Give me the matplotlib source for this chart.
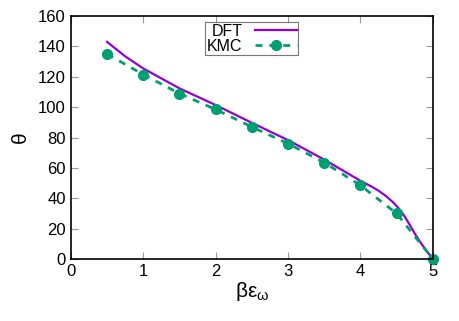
import numpy as np
import matplotlib
matplotlib.use("Agg")
import matplotlib.pyplot as plt

plt.rcParams['font.family'] = ['Liberation Sans', 'DejaVu Sans']
plt.rcParams['mathtext.fontset'] = 'custom'
plt.rcParams['mathtext.rm'] = 'Liberation Sans'

# DFT curve
dft_x = [0.5, 0.75, 1.0, 1.5, 2.0, 2.5, 3.0, 3.5, 4.0, 4.15, 4.25, 4.35, 4.45, 4.52, 4.6, 4.68, 4.76, 4.85, 4.93, 5.0]
dft_y = [143, 133.5, 125.5, 112.4, 101.4, 89.7, 78.3, 65.5, 51.5, 47.8, 45.0, 41.6, 37.4, 33.8, 28.8, 22.6, 16.0, 9.5, 4.4, 0.0]

# KMC points
kmc_x = [0.5, 1.0, 1.5, 2.0, 2.5, 3.0, 3.5, 4.0, 4.5, 5.0]
kmc_y = [135, 121.5, 109, 98.5, 87, 76, 63.5, 48.5, 30, 0]

fig = plt.figure(figsize=(4.6, 3.21), dpi=100)
ax = fig.add_axes([0.154, 0.193, 0.787, 0.757])

ax.plot(dft_x, dft_y, color='#9400D3', lw=1.6, label='DFT', solid_joinstyle='round')
ax.plot(kmc_x, kmc_y, color='#009E73', lw=2.0, ls=(0, (2.5, 2.5)),
        marker='o', ms=7, label='KMC', clip_on=False)

ax.set_xlim(0, 5)
ax.set_ylim(0, 160)
ax.set_xticks(range(0, 6))
ax.set_yticks(range(0, 161, 20))
ax.tick_params(direction='in', top=True, right=True, labelsize=12, length=5, color='#999999')
for s in ax.spines.values():
    s.set_linewidth(1.2)

ax.set_xlabel(r'$\mathrm{βε_{ω}}$', fontsize=15, labelpad=1)
ax.set_ylabel('θ', fontsize=15, labelpad=6)

leg = ax.legend(loc='upper center', bbox_to_anchor=(0.5, 0.995), markerfirst=False,
                fontsize=11.5, frameon=True, fancybox=False, edgecolor='#555555',
                borderpad=0.1, labelspacing=0.0, handlelength=2.6, handletextpad=0.8,
                borderaxespad=0.3)
leg.get_frame().set_linewidth(0.8)

fig.savefig('out.png', dpi=100)
